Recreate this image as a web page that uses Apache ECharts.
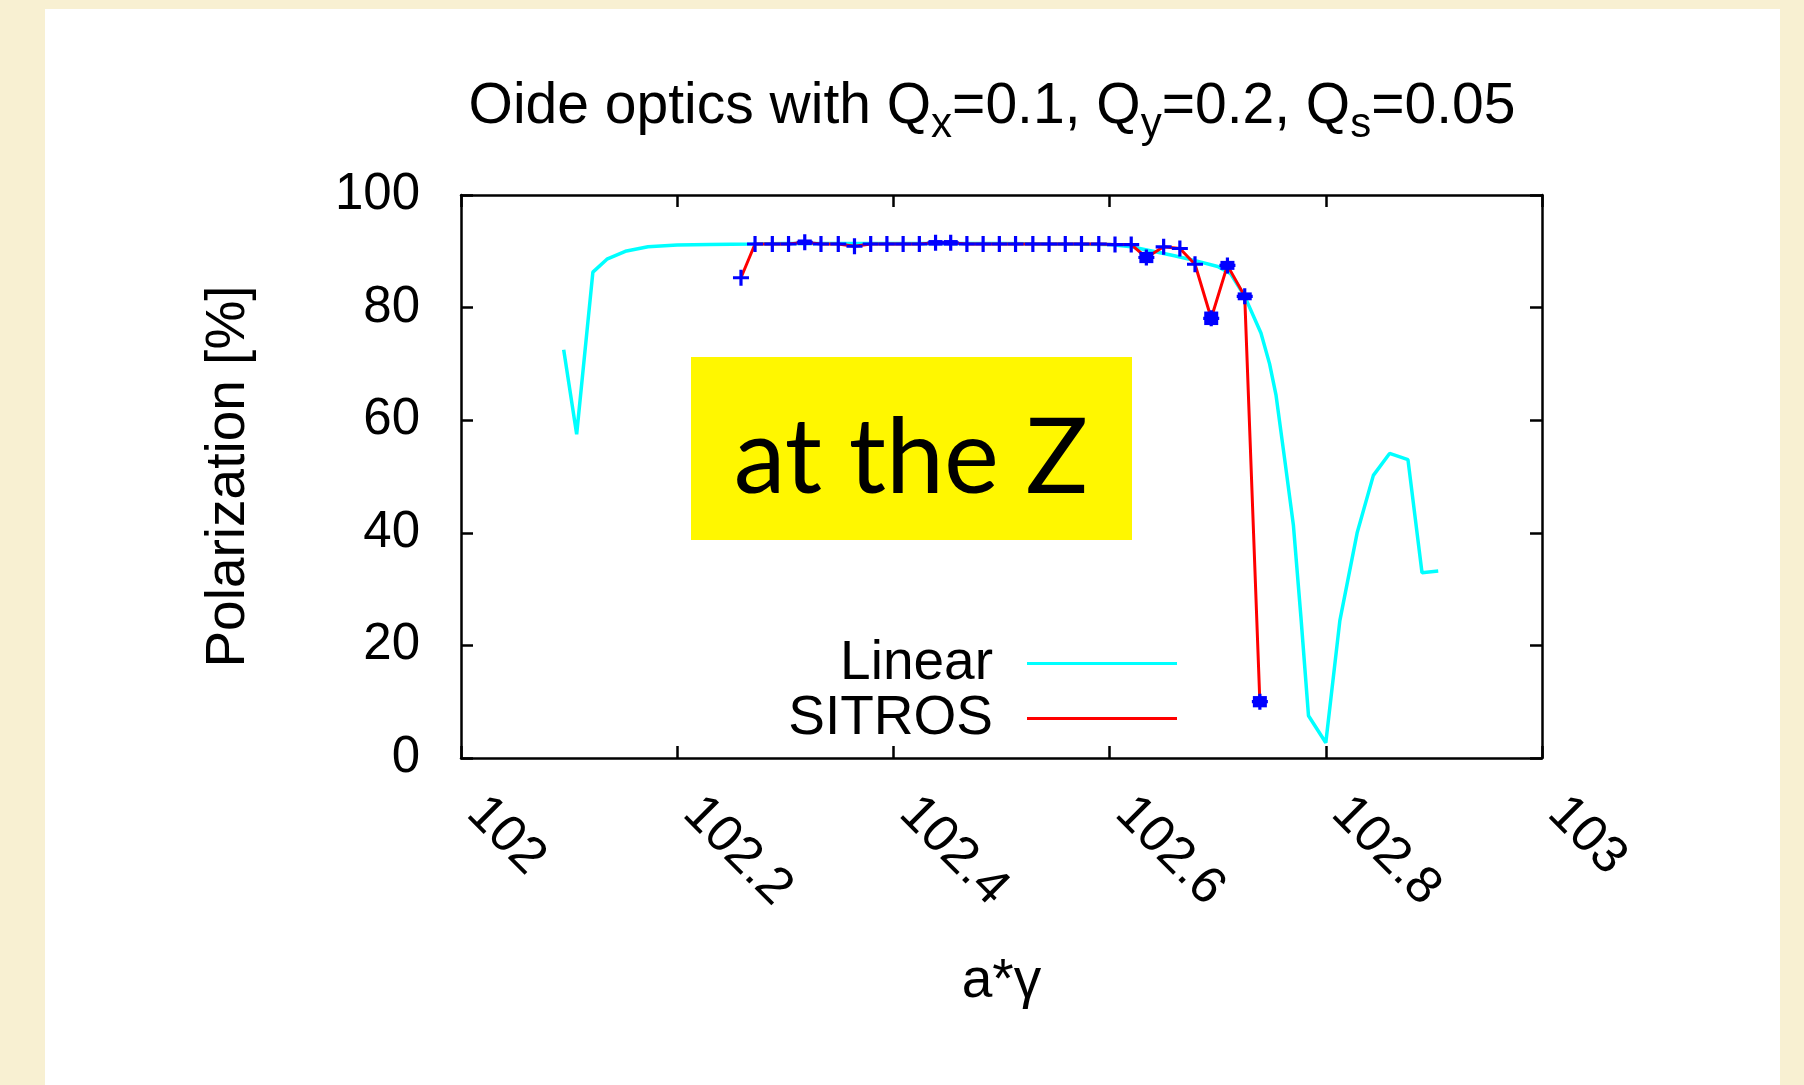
<!DOCTYPE html>
<html>
<head>
<meta charset="utf-8">
<script src="https://cdn.jsdelivr.net/npm/echarts@6/dist/echarts.min.js"></script>
<style>
html,body{margin:0;padding:0;background:#f8f0d2;}
#chart{width:1804px;height:1085px;}
</style>
</head>
<body>
<div id="chart"></div>
<script>
// ---- data ----
const xTicks = [102, 102.2, 102.4, 102.6, 102.8, 103];
const yTicks = [0, 20, 40, 60, 80, 100];

const linearX = [102.095, 102.107, 102.122, 102.135, 102.152, 102.173, 102.200, 102.230, 102.270, 102.300,
                 102.350, 102.400, 102.450, 102.500, 102.550, 102.600, 102.620, 102.640, 102.660, 102.680,
                 102.700, 102.712, 102.725, 102.740, 102.748, 102.754, 102.762, 102.770, 102.777, 102.784,
                 102.800, 102.813, 102.829, 102.844, 102.859, 102.876, 102.889, 102.904];
const linearY = [72.5, 57.5, 86.3, 88.6, 90.0, 90.8, 91.1, 91.2, 91.3, 91.4,
                 91.4, 91.4, 91.4, 91.4, 91.3, 91.2, 90.8, 90.0, 89.2, 88.3,
                 87.3, 86.0, 82.0, 75.5, 70.0, 64.4, 53.0, 41.4, 25.0, 7.5,
                 2.7, 24.4, 40.0, 50.2, 54.1, 53.0, 32.9, 33.2];

const sitrosX = [102.259, 102.272, 102.288, 102.303, 102.318, 102.333, 102.349, 102.364, 102.379, 102.394,
                 102.409, 102.424, 102.439, 102.453, 102.468, 102.483, 102.498, 102.513, 102.529, 102.544,
                 102.559, 102.574, 102.590, 102.605, 102.620, 102.634, 102.650, 102.665, 102.679, 102.694,
                 102.709, 102.725, 102.739];
const sitrosY = [85.3, 91.3, 91.3, 91.3, 91.6, 91.3, 91.3, 90.9, 91.3, 91.3,
                 91.3, 91.3, 91.5, 91.5, 91.3, 91.3, 91.3, 91.3, 91.3, 91.3,
                 91.3, 91.3, 91.3, 91.2, 91.2, 88.9, 90.8, 90.5, 87.7, 78.1,
                 87.5, 82.0, 10.0];
const sitrosErr = [0, 0, 0, 0, 0.5, 0, 0, 0, 0, 0,
                   0, 0, 0.5, 0.5, 0, 0, 0, 0, 0, 0,
                   0, 0, 0, 0, 0, 1.0, 0, 0, 0, 1.2,
                   0.8, 0.7, 1.0];

const seriesNames = ['Linear', 'SITROS'];
const titleText = '{a|Oide optics with Q}{s|x}{a|=0.1, Q}{s|y}{a|=0.2, Q}{s|s}{a|=0.05}';
const xName = 'a*\u03b3';
const yName = 'Polarization [%]';
const boxText = 'at the Z';

// ---- build ----
const FONT = 'Liberation Sans, Arial, sans-serif';
const linearData = linearX.map((x, i) => [x, linearY[i]]);
const sitrosData = sitrosX.map((x, i) => [x, sitrosY[i]]);
const errData = sitrosX.map((x, i) => [x, sitrosY[i], sitrosErr[i]]);
const plusPath = 'path://M4,0h2v4h4v2h-4v4h-2v-4h-4v-2h4z';

const chart = echarts.init(document.getElementById('chart'), null, {renderer: 'canvas'});

const axisCommon = {
  type: 'value',
  axisLine: {show: true, onZero: false, lineStyle: {color: '#000', width: 2.5}},
  axisTick: {show: true, inside: true, length: 12, lineStyle: {color: '#000', width: 2.5}},
  splitLine: {show: false}
};

const fmtX = v => String(+(+v).toFixed(1));

chart.setOption({
  backgroundColor: '#f8f0d2',
  animation: false,
  title: {
    text: titleText,
    left: 992,
    top: 79,
    textAlign: 'center',
    padding: 0,
    textStyle: {
      fontWeight: 'normal',
      rich: {
        a: {fontFamily: FONT, fontSize: 57, fontWeight: 'normal', color: '#000', verticalAlign: 'top'},
        s: {fontFamily: FONT, fontSize: 42, fontWeight: 'normal', color: '#000', verticalAlign: 'top', padding: [25, 0, 0, 0]}
      }
    }
  },
  graphic: [
    {type: 'rect', z: -10, silent: true, shape: {x: 45, y: 9, width: 1735, height: 1090}, style: {fill: '#ffffff'}},
    {type: 'rect', z: 100, silent: true, shape: {x: 691, y: 357, width: 441, height: 183}, style: {fill: '#fff700'}},
    {type: 'text', z: 101, silent: true, x: 911, y: 459,
     style: {text: boxText, font: '104px Lato, "Open Sans", sans-serif', fill: '#000', textAlign: 'center', textVerticalAlign: 'middle'}}
  ],
  legend: {
    orient: 'vertical',
    right: 627,
    top: 636,
    padding: 0,
    itemGap: 0,
    align: 'right',
    itemWidth: 150,
    itemHeight: 3,
    selectedMode: false,
    textStyle: {fontFamily: FONT, fontSize: 55, color: '#000', lineHeight: 55, padding: [0, 29, 0, 0]},
    data: [
      {name: seriesNames[0], icon: 'rect', itemStyle: {color: '#00ffff', borderWidth: 0}},
      {name: seriesNames[1], icon: 'rect', itemStyle: {color: '#ff0000', borderWidth: 0}}
    ]
  },
  grid: {left: 461, right: 262, top: 195, bottom: 327, containLabel: false},
  xAxis: [
    Object.assign({}, axisCommon, {
      position: 'bottom', min: xTicks[0], max: xTicks[xTicks.length - 1], interval: xTicks[1] - xTicks[0],
      name: xName, nameLocation: 'middle', nameGap: 196,
      nameTextStyle: {fontFamily: FONT, fontSize: 55, color: '#000'},
      axisLabel: {show: true, rotate: -45, margin: 33, padding: [0, 0, 0, 20], fontFamily: FONT, fontSize: 52, color: '#000', formatter: fmtX, showMinLabel: true, showMaxLabel: true}
    }),
    Object.assign({}, axisCommon, {
      position: 'top', min: xTicks[0], max: xTicks[xTicks.length - 1], interval: xTicks[1] - xTicks[0],
      axisLabel: {show: false}
    })
  ],
  yAxis: [
    Object.assign({}, axisCommon, {
      position: 'left', min: yTicks[0], max: yTicks[yTicks.length - 1], interval: yTicks[1] - yTicks[0],
      name: yName, nameLocation: 'middle', nameGap: 205, nameRotate: 90,
      nameTextStyle: {fontFamily: FONT, fontSize: 55, color: '#000'},
      axisLabel: {show: true, margin: 41, fontFamily: FONT, fontSize: 51, color: '#000'}
    }),
    Object.assign({}, axisCommon, {
      position: 'right', min: yTicks[0], max: yTicks[yTicks.length - 1], interval: yTicks[1] - yTicks[0],
      axisLabel: {show: false}
    })
  ],
  series: [
    {
      name: seriesNames[0], type: 'line', data: linearData, xAxisIndex: 0, yAxisIndex: 0,
      symbol: 'none', smooth: false, z: 2,
      lineStyle: {color: '#00ffff', width: 3.5},
      itemStyle: {color: '#00ffff'}
    },
    {
      name: seriesNames[1], type: 'line', data: sitrosData, xAxisIndex: 0, yAxisIndex: 0,
      symbol: plusPath, symbolSize: 16, showSymbol: true, showAllSymbol: true, z: 3,
      lineStyle: {color: '#ff0000', width: 3},
      itemStyle: {color: '#0000ff'}
    },
    {
      name: 'SITROS error', type: 'custom', xAxisIndex: 0, yAxisIndex: 0, z: 4, silent: true,
      data: errData,
      renderItem: function (params, api) {
        const err = api.value(2);
        if (!err) return null;
        const x = api.value(0), y = api.value(1);
        const top = api.coord([x, y + err]);
        const bot = api.coord([x, y - err]);
        const w = 14;
        return {
          type: 'rect',
          shape: {x: top[0] - w / 2, y: top[1], width: w, height: Math.max(bot[1] - top[1], 3)},
          style: {fill: '#0000ff'}
        };
      }
    }
  ]
});
</script>
</body>
</html>
